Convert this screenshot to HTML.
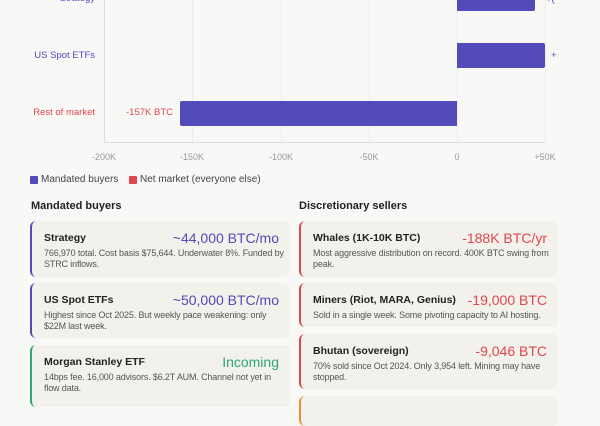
<!DOCTYPE html>
<html><head><style>
body{margin:0;width:600px;height:400px;overflow:hidden;background:#f8f8f6;font-family:"Liberation Sans",sans-serif;position:relative}
.a{position:absolute;white-space:nowrap}
.t{font-size:9px;color:#999;transform:translateX(-50%)}
.g{position:absolute;top:0;height:142px;width:1px;background:#ececea}
.card{position:absolute;background:#f2f1ec;border-radius:6px;border-left:2px solid;box-sizing:border-box}
.card .n{position:absolute;left:12px;top:11px;font-size:10.5px;font-weight:bold;color:#222;white-space:nowrap}
.card .v{position:absolute;right:11px;top:9px;font-size:14px;white-space:nowrap}
.card .d{position:absolute;left:12px;top:27px;right:2px;font-size:9px;line-height:11px;color:#555;letter-spacing:-0.15px}
.h{font-size:11px;font-weight:bold;color:#222}
</style></head><body>
<div class="g" style="left:104px;background:#ddd"></div>
<div class="g" style="left:192px"></div>
<div class="g" style="left:281px"></div>
<div class="g" style="left:369px"></div>
<div class="g" style="left:457px"></div>
<div class="g" style="left:545px"></div>
<div class="a" style="left:104px;top:142px;width:442px;height:1px;background:#ddd"></div>
<div class="a" style="left:457px;top:-2px;width:78px;height:13px;background:#524bb8;border-radius:0 2px 2px 0"></div>
<div class="a" style="left:457px;top:43px;width:88px;height:25px;background:#524bb8;border-radius:0 2px 2px 0"></div>
<div class="a" style="left:180px;top:101px;width:277px;height:25px;background:#524bb8;border-radius:2px 0 0 2px"></div>
<div class="a" style="right:505px;top:-7px;font-size:9.5px;color:#524bb8">Strategy</div>
<div class="a" style="left:546px;top:-6px;font-size:9.5px;color:#524bb8">+(</div>
<div class="a" style="right:505px;top:50px;font-size:9.5px;color:#524bb8">US Spot ETFs</div>
<div class="a" style="left:551px;top:50px;font-size:9.5px;color:#524bb8">+</div>
<div class="a" style="right:505px;top:107px;font-size:9.5px;color:#e0474c">Rest of market</div>
<div class="a" style="right:427px;top:107px;font-size:9.5px;color:#e0474c">-157K BTC</div>
<div class="a t" style="left:104px;top:152px">-200K</div>
<div class="a t" style="left:192px;top:152px">-150K</div>
<div class="a t" style="left:281px;top:152px">-100K</div>
<div class="a t" style="left:369px;top:152px">-50K</div>
<div class="a t" style="left:457px;top:152px">0</div>
<div class="a t" style="left:545px;top:152px">+50K</div>
<div class="a" style="left:30px;top:176px;width:8px;height:8px;background:#524bb8;border-radius:1px"></div>
<div class="a" style="left:41px;top:174px;font-size:10px;color:#444">Mandated buyers</div>
<div class="a" style="left:129px;top:176px;width:8px;height:8px;background:#e0474c;border-radius:1px"></div>
<div class="a" style="left:140px;top:174px;font-size:10px;color:#444">Net market (everyone else)</div>
<div class="a h" style="left:31px;top:200px">Mandated buyers</div>
<div class="a h" style="left:299px;top:200px">Discretionary sellers</div>
<div class="card" style="left:30px;top:221px;width:260px;height:56px;border-color:#524bb8"><div class="n">Strategy</div><div class="v" style="color:#524bb8">~44,000 BTC/mo</div><div class="d">766,970 total. Cost basis $75,644. Underwater 8%. Funded by STRC inflows.</div></div>
<div class="card" style="left:30px;top:283px;width:260px;height:55px;border-color:#524bb8"><div class="n">US Spot ETFs</div><div class="v" style="color:#524bb8">~50,000 BTC/mo</div><div class="d">Highest since Oct 2025. But weekly pace weakening: only $22M last week.</div></div>
<div class="card" style="left:30px;top:345px;width:260px;height:62px;border-color:#2fa874"><div class="n">Morgan Stanley ETF</div><div class="v" style="color:#2fa874">Incoming</div><div class="d">14bps fee. 16,000 advisors. $6.2T AUM. Channel not yet in flow data.</div></div>
<div class="card" style="left:299px;top:221px;width:259px;height:56px;border-color:#e0474c"><div class="n">Whales (1K-10K BTC)</div><div class="v" style="color:#e0474c">-188K BTC/yr</div><div class="d">Most aggressive distribution on record. 400K BTC swing from peak.</div></div>
<div class="card" style="left:299px;top:283px;width:259px;height:44px;border-color:#e0474c"><div class="n">Miners (Riot, MARA, Genius)</div><div class="v" style="color:#e0474c">-19,000 BTC</div><div class="d">Sold in a single week. Some pivoting capacity to AI hosting.</div></div>
<div class="card" style="left:299px;top:334px;width:259px;height:55px;border-color:#e0474c"><div class="n">Bhutan (sovereign)</div><div class="v" style="color:#e0474c">-9,046 BTC</div><div class="d">70% sold since Oct 2024. Only 3,954 left. Mining may have stopped.</div></div>
<div class="card" style="left:299px;top:396px;width:259px;height:30px;border-color:#e8913a"></div>
</body></html>
